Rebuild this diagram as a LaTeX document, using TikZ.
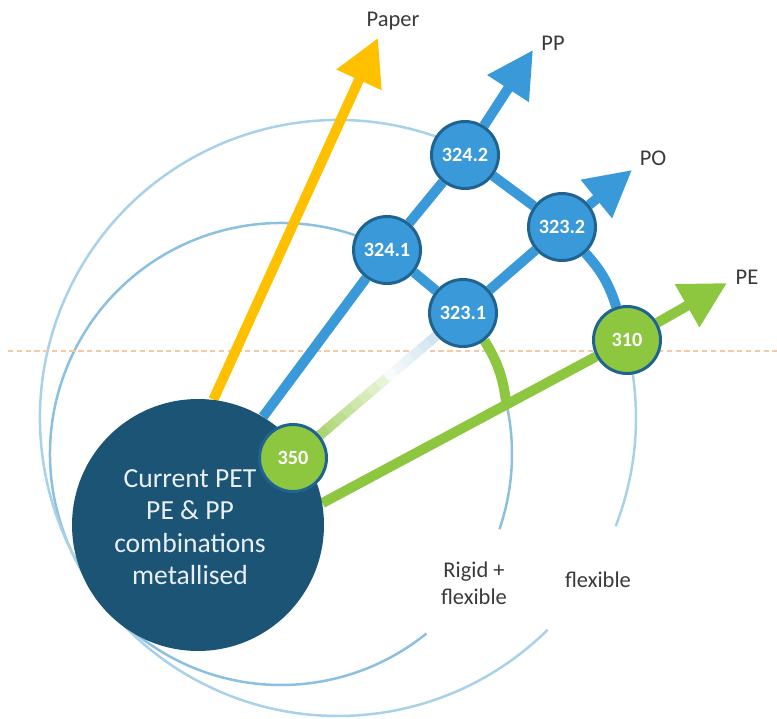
\documentclass[tikz,border=0pt]{standalone}
\usepackage{fontspec}
\setmainfont{Carlito}
\usetikzlibrary{arrows.meta, calc}

\definecolor{navy}{HTML}{1C5475}
\definecolor{nodeblue}{HTML}{3A9AD9}
\definecolor{nodegreen}{HTML}{8DC63F}
\definecolor{rimblue}{HTML}{1F6391}
\definecolor{paperorange}{HTML}{FFC000}
\definecolor{ringinner}{HTML}{8CC0E0}
\definecolor{ringouter}{HTML}{A9D1EA}
\definecolor{guide}{HTML}{F6C9A6}
\definecolor{fadeblue}{HTML}{B2D3E4}
\definecolor{labelgrey}{HTML}{3A3A3A}
\definecolor{discwhite}{HTML}{E9EFF3}

\pgfdeclarelayer{rings}
\pgfdeclarelayer{links}
\pgfsetlayers{rings,links,main}

\begin{document}
\begin{tikzpicture}[
    x=0.02cm, y=0.02cm,
    numnode/.style={circle, draw=rimblue, line width=0.06cm, minimum size=1.34cm, inner sep=0pt, text=white, font=\fontsize{11.5}{13}\selectfont\bfseries},
    bluenode/.style={numnode, fill=nodeblue},
    greennode/.style={numnode, fill=nodegreen},
    route/.style={line width=0.2cm},
    bigtip/.style={-{Triangle[length=0.92cm, width=0.94cm]}},
    ring/.style={line width=0.05cm},
    caption/.style={text=labelgrey, font=\fontsize{12.8}{15.3}\selectfont, align=center}
  ]
  \useasboundingbox (0,0) rectangle (777,718);

  % current materials
  \node[circle, fill=navy, minimum size=5.04cm, inner sep=0pt] (cur) at (198,193) {};
  \node[text=discwhite, font=\fontsize{15.7}{18.5}\selectfont, align=center] (curtext) at (190,191) {Current PET\\PE \& PP\\combinations\\metallised};

  % numbered steps
  \node[greennode] (n350) at (293,260) {350};
  \node[bluenode] (n3241) at (387,468) {324.1};
  \node[bluenode] (n3242) at (465,563) {324.2};
  \node[bluenode] (n3231) at (463,405) {323.1};
  \node[bluenode] (n3232) at (562,491) {323.2};
  \node[greennode] (n310) at (627,378) {310};

  % arrow ends
  \coordinate (tpaper) at (378,680);
  \coordinate (tpp) at (533,668);
  \coordinate (tpo) at (632,548);
  \coordinate (tpe) at (727,435);

  \node[caption] (lpaper) at (393,697) {Paper};
  \node[caption] (lpp) at (553,675) {PP};
  \node[caption] (lpo) at (653,560) {PO};
  \node[caption] (lpe) at (747,441) {PE};
  \node[caption] (lrigid) at (474,135) {Rigid +\\flexible};
  \node[caption] (lflex) at (598,138) {flexible};

  % rings and guide line
  \coordinate (ci) at (281,264);
  \coordinate (co) at (338,300);
  \path (ci) ++(13:231) coordinate (xing);
  \coordinate (gl) at (8,367);
  \coordinate (gr) at (777,367);
  \begin{pgfonlayer}{rings}
    \draw[ring, ringinner] (ci) ++(62.5:231) arc[start angle=62.5, end angle=309, radius=231];
    \draw[ring, ringinner] (ci) ++(-19:231) arc[start angle=-19, end angle=14, radius=231];
    \draw[ring, ringouter] (co) ++(64:298) arc[start angle=64, end angle=314.7, radius=298];
    \draw[ring, ringouter] (co) ++(-21.3:298) arc[start angle=-21.3, end angle=15, radius=298];
    \draw[guide, line width=0.6pt, dash pattern=on 3pt off 2pt] (gl) -- (gr);
  \end{pgfonlayer}

  % routes
  \begin{pgfonlayer}{links}
    \draw[route, paperorange, bigtip] (cur.83) -- (tpaper);
    \draw[route, nodeblue] (cur.59) -- (n3241);
    \draw[route, nodeblue] (n3241) -- (n3242);
    \draw[route, nodeblue, bigtip] (n3242) -- (tpp);
    \draw[route, nodeblue] (n3241) -- (n3231);
    \draw[route, nodeblue] (n3242) -- (n3232);
    \draw[route, nodeblue] (n3231) -- (n3232);
    \draw[route, nodeblue, bigtip] (n3232) -- (tpo);
    \draw[route, nodeblue] (n3232) to[bend left=12] (n310);
    \draw[route, nodegreen] (n3231) to[bend left=12] (xing);
    \draw[route, nodegreen] (cur.10) -- (n310);
    \draw[route, nodegreen, bigtip] (n310) -- (tpe);
    \foreach \i in {0,...,19}{
      \pgfmathsetmacro{\ta}{\i/20}
      \pgfmathsetmacro{\tb}{(\i+1.3)/20}
      \ifnum\i<11
        \pgfmathsetmacro{\pc}{95-\i*7.5}
        \colorlet{fadecol}{nodegreen!\pc!white}
      \else
        \pgfmathsetmacro{\pc}{(\i-10)*10}
        \colorlet{fadecol}{fadeblue!\pc!white}
      \fi
      \draw[route, fadecol] ($(n350)!\ta!(n3231)$) -- ($(n350)!\tb!(n3231)$);
    }
  \end{pgfonlayer}
\end{tikzpicture}
\end{document}
